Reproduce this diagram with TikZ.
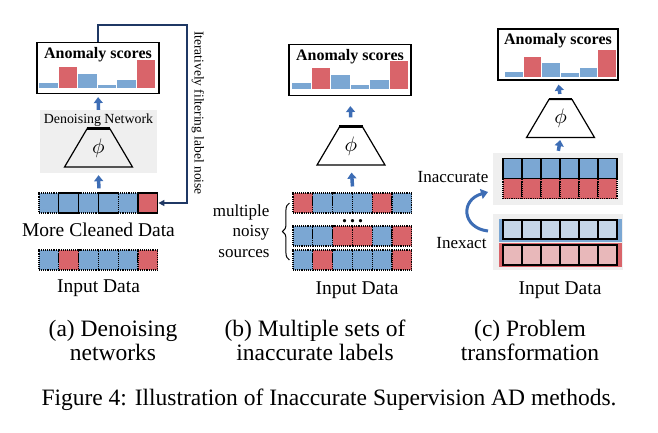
\documentclass[tikz,border=0pt]{standalone}
\usepackage{fontspec}
\usepackage{graphicx}
\setmainfont{Liberation Serif}
\usetikzlibrary{arrows.meta, shapes.geometric, decorations.pathreplacing, calc}
\definecolor{cblue}{HTML}{7BA7D3}
\definecolor{cred}{HTML}{D9646A}
\definecolor{lblue}{HTML}{C5D6E8}
\definecolor{lred}{HTML}{E8B8BA}
\definecolor{bggray}{HTML}{EFEFEF}
\definecolor{navy}{HTML}{1F3864}
\definecolor{arrblue}{HTML}{3D6DB5}

\begin{document}
\begin{tikzpicture}[x=1pt, y=-1pt,
    score/.style={
        draw, line width=1.2pt, fill=white,
        minimum width=122pt, minimum height=51pt, inner sep=0pt
    },
    title/.style={font=\fontsize{16}{18}\selectfont\bfseries, inner sep=0pt},
    bar/.style={draw=white, line width=0.6pt},
    net/.style={
        draw, line width=1.2pt, trapezium, trapezium angle=57,
        trapezium stretches=true, minimum width=68pt, minimum height=38pt,
        inner sep=0pt
    },
    cell/.style={
        draw, densely dotted, line width=1.1pt,
        minimum width=19.8pt, minimum height=20pt, inner sep=0pt
    },
    solidcell/.style={cell, solid, line width=1.2pt},
    bg/.style={fill=bggray, inner sep=0pt},
    arr/.style={-{Triangle[length=6pt, width=9pt]}, line width=3.5pt, color=arrblue},
    feedback/.style={-{Triangle[length=6pt, width=6pt]}, line width=1.6pt, color=navy},
    lbl/.style={font=\fontsize{19.5}{21}\selectfont},
    side/.style={font=\fontsize{17}{20.5}\selectfont, align=right},
    caption/.style={font=\fontsize{23.5}{24}\selectfont, align=center}
]
    \useasboundingbox (0,0) rectangle (658,432);

    % ---------------- (a) Denoising networks ----------------
    \node[score] (sa) at (98,68) {};
    \node[title, below=5pt] at (sa.north) {Anomaly scores};
    \foreach \h/\c [count=\i] in {6/cblue,22/cred,15/cblue,4/cblue,9/cblue,29/cred}
        \draw[bar, fill=\c] ($(sa.south west)+(2+19.5*\i-19.5,-6)$) rectangle +(19.5,-\h);

    \node[bg, minimum width=117pt, minimum height=63pt] (bga) at (98.5,141.5) {};
    \node[font=\fontsize{13.9}{14}\selectfont] (dna) at (98.5,120) {Denoising Network};
    \node[net] (na) at (98.5,148) {\scalebox{2.1}{$\phi$}};
    \draw[line width=2.6pt] (na.top left corner) -- (na.top right corner);

    % more cleaned data
    \foreach \c/\s [count=\i] in {cblue/cell,cblue/solidcell,cblue/cell,cblue/solidcell,cblue/cell,cred/solidcell}
        \node[\s, fill=\c] (m\i) at (29.1+19.8*\i,203) {};
    \node[lbl] (mcd) at (98.5,230) {More Cleaned Data};

    % input data
    \foreach \c [count=\i] in {cblue,cred,cblue,cblue,cblue,cred}
        \node[cell, fill=\c] (ia\i) at (29.1+19.8*\i,260) {};
    \node[lbl] (ida) at (98.5,288) {Input Data};

    \draw[arr, shorten >=3pt] (bga.north) -- (sa.south);
    \draw[arr, shorten <=4pt, shorten >=2pt] (m3.north east) -- (bga.south);

    % feedback loop
    \coordinate (turn) at (187,25);
    \draw[feedback] (sa.north) |- (turn) |- (m6.east);
    \node[rotate=-90, font=\fontsize{13.5}{14}\selectfont] (fbtxt) at (198,113)
        {Iteratively filtering label noise};

    % ---------------- (b) Multiple sets of inaccurate labels ----------------
    \node[score] (sb) at (350,70) {};
    \node[title, below=5pt] at (sb.north) {Anomaly scores};
    \foreach \h/\c [count=\i] in {7/cblue,22/cred,15/cblue,5/cblue,10/cblue,29/cred}
        \draw[bar, fill=\c] ($(sb.south west)+(3+19.5*\i-19.5,-7)$) rectangle +(19.5,-\h);

    \node[net] (nb) at (351,146) {\scalebox{2.1}{$\phi$}};
    \draw[line width=2.6pt] (nb.top left corner) -- (nb.top right corner);

    \foreach \c [count=\i] in {cred,cblue,cblue,cblue,cred,cblue}
        \node[cell, fill=\c] (b1\i) at (283.1+19.8*\i,203) {};
    \foreach \c [count=\i] in {cblue,cblue,cred,cred,cblue,cred}
        \node[cell, fill=\c] (b2\i) at (283.1+19.8*\i,236) {};
    \foreach \c [count=\i] in {cblue,cred,cblue,cblue,cblue,cred}
        \node[cell, fill=\c] (b3\i) at (283.1+19.8*\i,260) {};
    \node[font=\fontsize{20}{20}\selectfont\bfseries, inner sep=0pt] (dots) at (352.5,221)
        {.\hspace{3pt}.\hspace{3pt}.};

    \draw[decorate, decoration={brace, amplitude=7pt}, line width=1pt]
        ($(b31.west)+(-3,0)$) -- ($(b11.west)+(-3,0)$);
    \node[side, anchor=east] (srcs) at (273,231) {multiple\\noisy\\sources};
    \node[lbl] (idb) at (357,290) {Input Data};

    \draw[arr, shorten <=9pt, shorten >=10pt] (nb.north) -- (sb.south);
    \draw[arr, shorten <=6pt, shorten >=7pt] (b13.north east) -- (nb.south);

    % ---------------- (c) Problem transformation ----------------
    \node[score, minimum width=120pt] (sc) at (558,54.5) {};
    \node[title, below=5pt] at (sc.north) {Anomaly scores};
    \foreach \h/\c [count=\i] in {6/cblue,21/cred,15/cblue,5/cblue,10/cblue,28/cred}
        \draw[bar, fill=\c] ($(sc.south west)+(7+18.6*\i-18.6,-3)$) rectangle +(18.6,-\h);

    \node[net] (nc) at (560.5,118.5) {\scalebox{2.1}{$\phi$}};
    \draw[line width=2.6pt] (nc.top left corner) -- (nc.top right corner);

    % inaccurate labels
    \node[bg, minimum width=130pt, minimum height=52pt] (bgc1) at (558,179) {};
    \foreach \i in {1,...,6}
        \node[solidcell, fill=cblue, minimum width=19pt] (c1\i) at (493.5+19*\i,168.5) {};
    \foreach \i in {1,...,6}
        \node[cell, fill=cred, minimum width=19pt] (c2\i) at (493.5+19*\i,188.5) {};

    % inexact labels
    \node[bg, minimum width=130pt, minimum height=56pt] (bgc2) at (558,242) {};
    \node[fill=cblue, minimum width=123pt, minimum height=23pt, inner sep=0pt] (bandb) at (560.5,230.5) {};
    \node[fill=cred, minimum width=123pt, minimum height=24pt, inner sep=0pt] (bandr) at (560.5,255) {};
    \foreach \i in {1,...,6}
        \node[solidcell, fill=lblue, minimum width=19pt, minimum height=19pt] (c3\i) at (493.5+19*\i,229.5) {};
    \foreach \i in {1,...,6}
        \node[solidcell, fill=lred, minimum width=19pt] (c4\i) at (493.5+19*\i,255) {};

    \node[side, anchor=east] (inacc) at (492,177) {Inaccurate};
    \node[side, anchor=east] (inex) at (490,243) {Inexact};
    \coordinate (cvs) at (488,231);
    \coordinate (cve) at (488,192);
    \draw[arr, line width=3pt, -{Triangle[length=7pt, width=10pt]}]
        (cvs) .. controls (462,228) and (460,200) .. (cve);
    \node[lbl] (idc) at (560,290) {Input Data};

    \draw[arr, shorten <=5pt, shorten >=4pt] (nc.north) -- (sc.south);
    \draw[arr, shorten <=2pt, shorten >=2pt] (bgc1.north) -- (nc.south);

    % ---------------- captions ----------------
    \node[caption] (capa) at (113,340) {(a) Denoising\\networks};
    \node[caption] (capb) at (315,340) {(b) Multiple sets of\\inaccurate labels};
    \node[caption] (capc) at (530,340) {(c) Problem\\transformation};
    \node[caption] (fig) at (329,400) {Figure 4: Illustration of Inaccurate Supervision AD methods.};
\end{tikzpicture}
\end{document}
